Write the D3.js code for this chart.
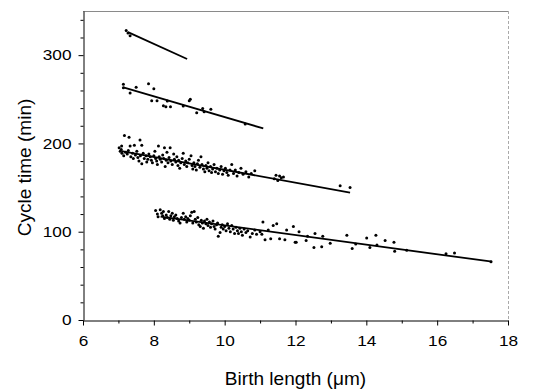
<!DOCTYPE html>
<html><head><meta charset="utf-8">
<script src="https://cdn.jsdelivr.net/npm/d3@7/dist/d3.min.js"></script>
<style>
body{margin:0;background:#fff;}
svg{display:block;font-family:"Liberation Sans",Arial,sans-serif;}
</style></head>
<body><svg id="c" width="543" height="391"></svg>
<script>
// ---- data ----
const xTicks = [6, 8, 10, 12, 14, 16, 18];
const xMinorTicks = [7, 9, 11, 13, 15, 17];
const yTicks = [0, 100, 200, 300];
const yMinorTicks = [20, 40, 60, 80, 120, 140, 160, 180, 220, 240, 260, 280, 320, 340];
const xTitle = "Birth length (\u03BCm)";
const yTitle = "Cycle time (min)";

// group 1 (top)
const g1x = [7.22, 7.27, 7.33];
const g1y = [328, 325, 322];
// group 2
const g2x = [7.14, 7.14, 7.33, 7.50, 7.85, 8.00, 7.94, 8.09, 8.27, 8.34, 8.38, 8.47, 8.83, 9.00, 9.03, 9.21, 9.38, 9.42, 9.61, 10.58];
const g2y = [267, 263, 257, 263.5, 267.6, 262, 248.4, 248.4, 242.7, 241.6, 248, 241.6, 242.4, 248.4, 250, 234.8, 239.7, 236, 238.6, 222];
// group 3
const g3x = [7.02,7.05,7.08,7.10,7.17,7.30,7.61,7.09,7.33,7.45,7.66,7.15,7.20,7.25,7.28,7.35,7.40,7.42,7.48,7.52,7.55,7.58,7.62,7.66,7.70,7.73,7.78,7.80,7.83,7.86,7.90,7.93,7.96,8.00,8.03,8.05,8.08,8.10,8.13,8.15,8.18,8.22,8.25,8.28,8.30,8.32,8.35,8.37,8.40,8.43,8.46,8.48,8.52,8.56,8.58,8.62,8.65,8.68,8.70,8.73,8.76,8.80,8.83,8.86,8.90,8.93,8.96,9.00,9.05,9.08,9.10,9.13,9.16,9.20,9.23,9.26,9.30,9.33,9.36,9.40,9.44,9.47,9.50,9.53,9.56,9.60,9.63,9.66,9.70,9.74,9.78,9.82,9.86,9.90,9.94,9.98,10.02,10.06,10.10,10.15,10.20,10.25,10.30,10.35,10.40,10.46,10.52,10.60,10.68,10.75,10.85,11.40,11.45,11.50,11.55,11.60,11.66,13.26,13.54];
const g3y = [195,191,193,189,209,207,204,197,197,198,198,186,190,188,192,185,189,183,187,191,184,180,186,177,189,183,186,179,182,188,185,181,178,186,191,183,180,176,197,185,182,179,187,183,195,174,181,190,178,184,195,180,176,188,182,179,185,175,181,172,178,183,189,176,180,174,178,182,186,175,171,178,174,170,177,181,173,185,176,171,168,175,172,178,169,174,167,171,176,168,172,166,170,174,165,169,172,167,164,170,176,166,170,163,167,172,165,168,162,166,169,160,164,158,163,161,162,152,150];
// group 4 (bottom)
const g4x = [8.05,8.10,8.12,8.18,8.22,8.25,8.27,8.30,8.35,8.38,8.42,8.45,8.48,8.52,8.55,8.58,8.62,8.66,8.70,8.74,8.78,8.83,8.86,8.90,8.93,8.96,9.00,9.03,9.07,9.10,9.14,9.17,9.20,9.24,9.27,9.31,9.34,9.37,9.40,9.43,9.47,9.50,9.53,9.57,9.60,9.63,9.67,9.70,9.73,9.77,9.80,9.82,9.87,9.90,9.93,9.96,10.00,10.04,10.08,10.12,10.16,10.20,10.24,10.28,10.32,10.36,10.39,10.43,10.47,10.50,10.55,10.60,10.65,10.72,10.78,10.85,10.90,11.00,11.05,11.08,11.14,11.23,11.30,11.37,11.47,11.55,11.70,11.75,11.94,11.99,12.02,12.10,12.30,12.34,12.52,12.55,12.74,12.77,12.98,13.45,13.60,13.70,14.01,14.10,14.27,14.30,14.53,14.78,14.80,15.14,16.25,16.49,17.52];
const g4y = [124,120,117,125,121,118,123,115,119,116,123,114,118,121,113,117,119,115,112,110,116,121,114,117,111,115,113,118,122,110,123,114,111,116,108,106,113,110,104,112,109,114,107,111,105,109,112,106,103,108,110,95,99,105,108,103,106,101,109,104,100,107,103,98,105,101,98,104,100,96,103,99,101,94,98,102,97,100,97,111,91,102,92,107,109,92,91,102,106,88,88,100,90,95,82,98,83,95,87,96,81,86,93,82,96,85,90,88,78,79,75,76,66];

// regression line endpoints [x0, y0, x1, y1]
const fit1 = [7.27, 326, 8.94, 295.6];
const fit2 = [7.14, 263.5, 11.09, 217];
const fit3 = [7.09, 191.4, 13.54, 144.2];
const fit4 = [8.19, 117, 17.55, 66];

// ---- chart ----
const svg = d3.select("#c");
const L = 83, R = 508, T = 11, B = 320;
const SX = 1.15; // horizontal stretch of the original lettering
const x = d3.scaleLinear().domain([6, 18]).range([L, R]);
const y = d3.scaleLinear().domain([0, 350]).range([B, T]);

// frame (top/right, light)
svg.append("line").attr("x1", L).attr("x2", R).attr("y1", T + 0.5).attr("y2", T + 0.5)
  .attr("stroke", "#8a8a8a").attr("stroke-width", 1);
svg.append("line").attr("x1", R + 0.5).attr("x2", R + 0.5).attr("y1", T).attr("y2", B)
  .attr("stroke", "#aaa").attr("stroke-width", 1).attr("stroke-dasharray", "3,2");

// minor ticks
svg.append("g").attr("transform", `translate(0,${B + 0.5})`)
  .call(d3.axisBottom(x).tickValues(xMinorTicks).tickSize(3).tickFormat(""))
  .call(g => g.select(".domain").remove());
svg.append("g").attr("transform", `translate(${L + 0.5},0)`)
  .call(d3.axisLeft(y).tickValues(yMinorTicks).tickSize(3).tickFormat(""))
  .call(g => g.select(".domain").remove());

// major axes
const xa = svg.append("g").attr("transform", `translate(0,${B + 0.5})`)
  .call(d3.axisBottom(x).tickValues(xTicks).tickSize(5).tickSizeOuter(0).tickPadding(10));
const ya = svg.append("g").attr("transform", `translate(${L + 0.5},0)`)
  .call(d3.axisLeft(y).tickValues(yTicks).tickSize(5).tickSizeOuter(0).tickPadding(7));
[xa, ya].forEach(a => {
  a.selectAll("text").attr("font-size", 15).attr("fill", "#000")
    .attr("font-family", "'Liberation Sans',Arial,sans-serif");
  a.selectAll("line").attr("stroke", "#000");
  a.select(".domain").attr("stroke", "#000");
});
xa.selectAll(".tick text").attr("transform", `scale(${SX},1)`);
ya.selectAll(".tick text").attr("x", -12 / SX).attr("transform", `scale(${SX},1)`);

// points
const groups = [[g1x, g1y], [g2x, g2y], [g3x, g3y], [g4x, g4y]];
groups.forEach(([gx, gy]) => {
  svg.append("g").selectAll("circle").data(gx.map((v, i) => [v, gy[i]]))
    .join("circle").attr("cx", d => x(d[0])).attr("cy", d => y(d[1]))
    .attr("r", 1.5).attr("fill", "#000");
});

// fit lines
[fit1, fit2, fit3, fit4].forEach(f => {
  svg.append("line").attr("x1", x(f[0])).attr("y1", y(f[1]))
    .attr("x2", x(f[2])).attr("y2", y(f[3]))
    .attr("stroke", "#000").attr("stroke-width", 1.8);
});

// titles
svg.append("text").attr("transform", `translate(${(L + R) / 2},385) scale(1.06,1)`)
  .attr("text-anchor", "middle").attr("font-size", 18).text(xTitle);
svg.append("text").attr("transform", `translate(31,${(T + B) / 2 + 2}) rotate(-90) scale(1.06,1)`)
  .attr("text-anchor", "middle").attr("font-size", 18).text(yTitle);
</script></body></html>
